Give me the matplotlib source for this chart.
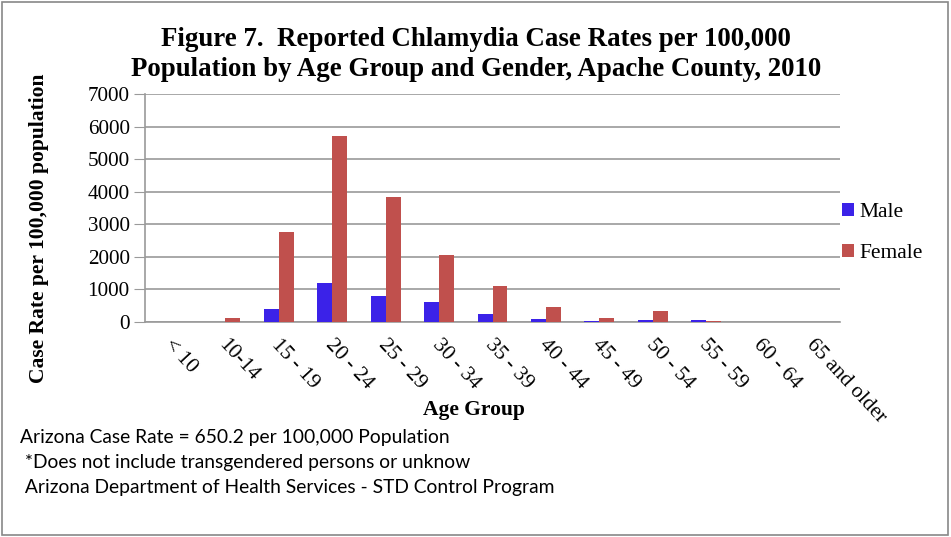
import matplotlib
matplotlib.use("Agg")
import matplotlib.pyplot as plt
import matplotlib.transforms as mtransforms
import numpy as np
from matplotlib.patches import Rectangle

categories = ["< 10", "10-14", "15 - 19", "20 - 24", "25 - 29", "30 - 34", "35 - 39",
              "40 - 44", "45 - 49", "50 - 54", "55 - 59", "60 - 64", "65 and older"]
male = [0, 0, 390, 1185, 785, 600, 240, 85, 25, 75, 50, 0, 0]
female = [0, 115, 2750, 5700, 3850, 2050, 1100, 475, 115, 340, 40, 0, 15]
yticks = [0, 1000, 2000, 3000, 4000, 5000, 6000, 7000]

serif = "Liberation Serif"
fig = plt.figure(figsize=(9.51, 5.37), dpi=100)
fig.patches.append(Rectangle((0.002, 0.004), 0.995, 0.992, transform=fig.transFigure,
                             fill=False, edgecolor="#888888", linewidth=1.2))

W, H = 951, 537
ax = fig.add_axes([145 / W, 1 - 322 / H, (840 - 145) / W, (322 - 94) / H])
x = np.arange(len(categories))
bw = 0.28
ax.bar(x - bw / 2, male, bw, color="#3B22E8", label="Male", zorder=3)
ax.bar(x + bw / 2, female, bw, color="#C0504D", label="Female", zorder=3)

ax.set_xlim(-0.5, len(categories) - 0.5)
ax.set_ylim(0, 7000)
ax.set_yticks(yticks)
ax.set_yticklabels([str(v) for v in yticks], fontfamily=serif, fontsize=15.2)
ax.yaxis.grid(True, color="#9a9a9a", linewidth=1.2, zorder=0)
ax.set_axisbelow(True)
for s in ["top", "right"]:
    ax.spines[s].set_visible(False)
ax.spines["left"].set_color("#9a9a9a")
ax.spines["bottom"].set_color("#9a9a9a")
ax.spines["left"].set_linewidth(1.2)
ax.spines["bottom"].set_linewidth(1.2)
ax.tick_params(axis="y", length=8, color="#9a9a9a", pad=3)
ax.tick_params(axis="x", length=0, pad=10)
ax.set_xticks(x)
ax.set_xticklabels(categories, fontfamily=serif, fontsize=15.5, rotation=-47,
                   ha="left", va="top", rotation_mode="anchor")
offset = mtransforms.ScaledTranslation(3 / 100, 0, fig.dpi_scale_trans)
for lbl in ax.get_xticklabels():
    lbl.set_transform(lbl.get_transform() + offset)

ax.set_xlabel("Age Group", fontfamily=serif, fontsize=15.5, fontweight="bold", labelpad=0)
ax.xaxis.set_label_coords(0.473, -0.342)
ax.set_ylabel("Case Rate per 100,000 population", fontfamily=serif, fontsize=15.5,
              fontweight="bold")
ax.yaxis.set_label_coords(-0.138, 0.41)

fig.text(476 / W, 1 - 40 / H, "Figure 7.  Reported Chlamydia Case Rates per 100,000",
         ha="center", va="center", fontfamily=serif, fontsize=19.4, fontweight="bold")
fig.text(476 / W, 1 - 69 / H, "Population by Age Group and Gender, Apache County, 2010",
         ha="center", va="center", fontfamily=serif, fontsize=19.4, fontweight="bold")

leg = ax.legend(loc="center left", bbox_to_anchor=(0.985, 0.39), frameon=False,
                prop={"family": serif, "size": 15.5}, handlelength=0.55, handleheight=0.55,
                handletextpad=0.25, labelspacing=1.05, borderaxespad=0.2)

foot = ["Arizona Case Rate = 650.2 per 100,000 Population",
        " *Does not include transgendered persons or unknow",
        " Arizona Department of Health Services - STD Control Program"]
for i, t in enumerate(foot):
    fig.text(20 / W, 1 - (437 + 25.5 * i) / H, t, ha="left", va="center",
             fontfamily="Lato", fontsize=13.9)

fig.savefig("out.png", dpi=100)
